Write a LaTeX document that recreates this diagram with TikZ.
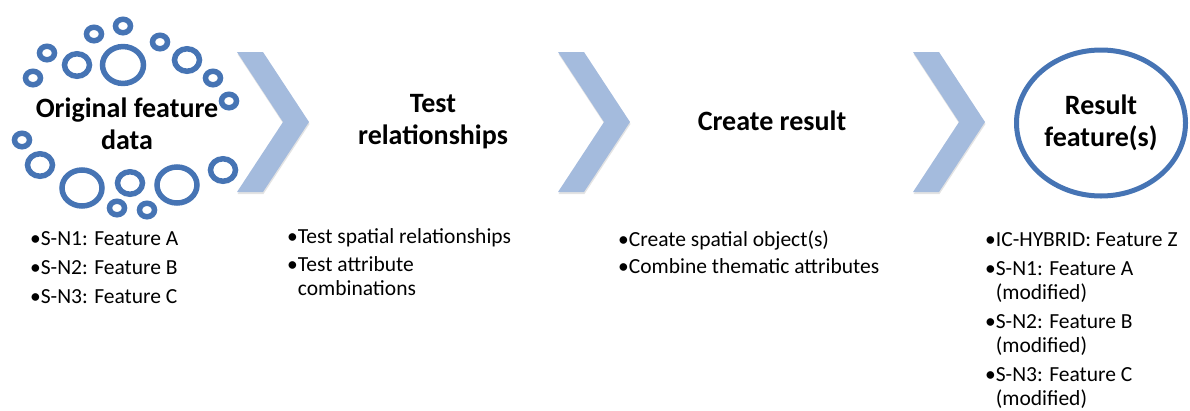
\documentclass[tikz,border=0pt]{standalone}
\usepackage{fontspec}
\setmainfont{Carlito}
\usetikzlibrary{shadows,shapes.geometric}
\definecolor{ringblue}{RGB}{70,116,180}
\definecolor{chevblue}{RGB}{164,187,221}
\newcommand{\hng}{\phantom{•}}
\tikzset{
  ring/.style={draw=ringblue, line width=5.5pt, fill=white},
  chev/.style={fill=chevblue, draw=none, drop shadow={shadow xshift=0.5pt, shadow yshift=-2pt, opacity=0.22}},
  title/.style={font=\bfseries\fontsize{28}{32}\selectfont, align=center, inner sep=0pt},
  blist/.style={font=\fontsize{21.5}{24}\selectfont, align=left, anchor=north west, inner sep=0pt},
}
\begin{document}
\begin{tikzpicture}[x=1pt,y=-1pt]
\useasboundingbox (0,0) rectangle (1190,410);
% chevrons
\foreach \x in {237,558,913} {
  \path[chev] (\x,52) -- ++(26,0) -- ++(46,70) -- ++(-46,70) -- ++(-26,0) -- ++(46,-70) -- cycle;
}
% ring cluster
\foreach \cx/\cy/\r in {
  123/26/7.5, 94/34/7.5, 160/42/7.5, 47/53/7.5, 77/65/12.5, 123/65/20.5,
  187/60/12.5, 33/78/7.5, 213/78/7.5, 229/101/7.5,
  22/140/7.5, 40/165/12.5, 82/188/20, 130/183/12.5, 117/208/7.5,
  147/210/7.5, 177/185/20, 223/170/12.5} {
  \draw[ring] (\cx,\cy) ellipse [x radius=\r, y radius=0.9*\r];
}
% titles
\node[title] (orig) at (127,124) {Original feature\\data};
\node[title] (test) at (433,122) {Test\\relationships};
\node[title] (create) at (772,121) {Create result};
\node[draw=ringblue, line width=5pt, fill=white, ellipse, minimum width=169pt, minimum height=146pt, title] (res) at (1101,123) {Result\\feature(s)};
% lists
\node[blist] (l1) at (30,231) {•S-N1: Feature A\\[5pt]•S-N2: Feature B\\[5pt]•S-N3: Feature C};
\node[blist] (l2) at (287,228) {•Test spatial relationships\\[4pt]•Test attribute\\\hng combinations};
\node[blist] (l3) at (618,231) {•Create spatial object(s)\\[3pt]•Combine thematic attributes};
\node[blist] (l4) at (985,232) {•IC-HYBRID: Feature Z\\[5pt]•S-N1: Feature A\\\hng(modified)\\[5pt]•S-N2: Feature B\\\hng(modified)\\[5pt]•S-N3: Feature C\\\hng(modified)};
\end{tikzpicture}
\end{document}
